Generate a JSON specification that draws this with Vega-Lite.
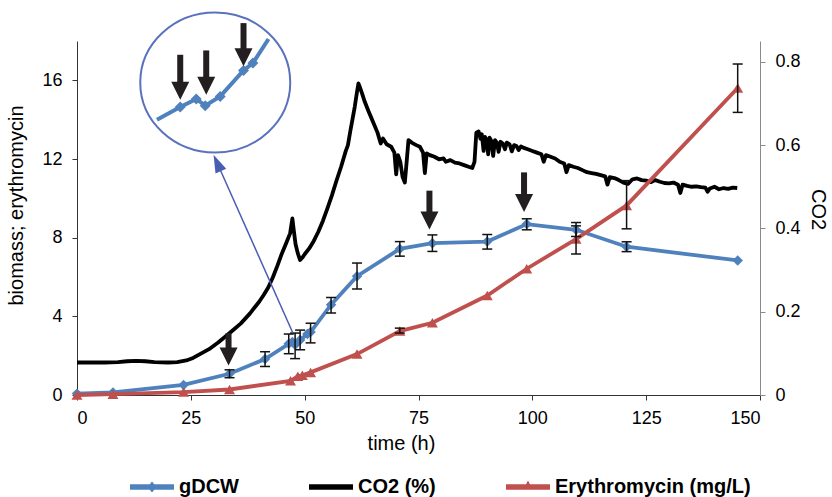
{
  "$schema": "https://vega.github.io/schema/vega-lite/v6.json",
  "width": 683,
  "height": 354,
  "autosize": {"type": "none"},
  "padding": {"left": 77, "top": 41, "right": 72, "bottom": 102},
  "config": {
    "font": "Liberation Sans",
    "view": {"stroke": null},
    "axis": {
      "grid": false,
      "labelFont": "Liberation Sans",
      "titleFont": "Liberation Sans",
      "labelFontSize": 18,
      "titleFontSize": 20,
      "titleFontWeight": "normal",
      "labelColor": "#000000",
      "titleColor": "#000000",
      "tickSize": 5,
      "labelPadding": 9
    }
  },
  "datasets": {
    "co2": [
      {"t": 0, "c": 0.078}, {"t": 3, "c": 0.078}, {"t": 6, "c": 0.078}, {"t": 9, "c": 0.079}, {"t": 11, "c": 0.081},
      {"t": 13, "c": 0.082}, {"t": 15, "c": 0.081}, {"t": 17, "c": 0.079}, {"t": 20, "c": 0.078}, {"t": 22, "c": 0.079},
      {"t": 24, "c": 0.083}, {"t": 25.5, "c": 0.089}, {"t": 27, "c": 0.098}, {"t": 29, "c": 0.110}, {"t": 31, "c": 0.126},
      {"t": 33, "c": 0.144}, {"t": 34.5, "c": 0.158}, {"t": 36, "c": 0.172}, {"t": 37, "c": 0.184}, {"t": 38, "c": 0.196},
      {"t": 39, "c": 0.210}, {"t": 40, "c": 0.224}, {"t": 41, "c": 0.240}, {"t": 42, "c": 0.258}, {"t": 43, "c": 0.282},
      {"t": 44, "c": 0.310}, {"t": 45, "c": 0.340}, {"t": 46, "c": 0.366}, {"t": 46.8, "c": 0.388}, {"t": 47.3, "c": 0.424},
      {"t": 47.6, "c": 0.396}, {"t": 48, "c": 0.362}, {"t": 48.5, "c": 0.340}, {"t": 49, "c": 0.324}, {"t": 49.5, "c": 0.330},
      {"t": 50, "c": 0.338}, {"t": 51, "c": 0.352}, {"t": 52, "c": 0.370}, {"t": 53, "c": 0.392}, {"t": 54, "c": 0.418},
      {"t": 55, "c": 0.448}, {"t": 56, "c": 0.480}, {"t": 57, "c": 0.515}, {"t": 58, "c": 0.548}, {"t": 59, "c": 0.585},
      {"t": 59.5, "c": 0.600}, {"t": 60, "c": 0.632}, {"t": 60.5, "c": 0.662}, {"t": 61, "c": 0.692}, {"t": 61.5, "c": 0.728},
      {"t": 61.8, "c": 0.748}, {"t": 62.1, "c": 0.740}, {"t": 62.6, "c": 0.724}, {"t": 63.2, "c": 0.704}, {"t": 64, "c": 0.682},
      {"t": 65, "c": 0.656}, {"t": 66, "c": 0.630}, {"t": 66.7, "c": 0.604}, {"t": 67.2, "c": 0.616}, {"t": 68, "c": 0.602},
      {"t": 69, "c": 0.596}, {"t": 69.7, "c": 0.582}, {"t": 70.1, "c": 0.530}, {"t": 70.5, "c": 0.576}, {"t": 71, "c": 0.560},
      {"t": 71.5, "c": 0.524}, {"t": 72, "c": 0.510}, {"t": 72.4, "c": 0.560}, {"t": 72.8, "c": 0.612}, {"t": 73.5, "c": 0.606},
      {"t": 74.5, "c": 0.600}, {"t": 75.3, "c": 0.596}, {"t": 76, "c": 0.582}, {"t": 76.4, "c": 0.533}, {"t": 76.8, "c": 0.580},
      {"t": 77.5, "c": 0.576}, {"t": 78.5, "c": 0.572}, {"t": 79.5, "c": 0.566}, {"t": 80.5, "c": 0.568}, {"t": 81, "c": 0.560},
      {"t": 82, "c": 0.564}, {"t": 83, "c": 0.558}, {"t": 84, "c": 0.556}, {"t": 85, "c": 0.552}, {"t": 86, "c": 0.548},
      {"t": 86.8, "c": 0.545}, {"t": 87.3, "c": 0.560}, {"t": 87.7, "c": 0.630}, {"t": 88.2, "c": 0.633}, {"t": 88.6, "c": 0.615},
      {"t": 88.9, "c": 0.626}, {"t": 89.3, "c": 0.586}, {"t": 89.6, "c": 0.620}, {"t": 90, "c": 0.612}, {"t": 90.3, "c": 0.578},
      {"t": 90.6, "c": 0.618}, {"t": 91, "c": 0.610}, {"t": 91.4, "c": 0.574}, {"t": 91.8, "c": 0.612}, {"t": 92.2, "c": 0.606},
      {"t": 92.6, "c": 0.584}, {"t": 93, "c": 0.608}, {"t": 93.5, "c": 0.604}, {"t": 94, "c": 0.590}, {"t": 94.4, "c": 0.606},
      {"t": 95, "c": 0.602}, {"t": 95.5, "c": 0.585}, {"t": 96, "c": 0.600}, {"t": 96.5, "c": 0.598}, {"t": 97, "c": 0.588},
      {"t": 97.5, "c": 0.597}, {"t": 98, "c": 0.594}, {"t": 99, "c": 0.590}, {"t": 100, "c": 0.586}, {"t": 101, "c": 0.582},
      {"t": 102, "c": 0.578}, {"t": 102.5, "c": 0.560}, {"t": 103, "c": 0.576}, {"t": 104, "c": 0.572}, {"t": 105, "c": 0.568},
      {"t": 106, "c": 0.560}, {"t": 107, "c": 0.556}, {"t": 107.5, "c": 0.535}, {"t": 108, "c": 0.552}, {"t": 109, "c": 0.548},
      {"t": 110, "c": 0.545}, {"t": 111, "c": 0.540}, {"t": 112, "c": 0.535}, {"t": 113, "c": 0.533}, {"t": 114, "c": 0.531},
      {"t": 115, "c": 0.528}, {"t": 116, "c": 0.525}, {"t": 116.5, "c": 0.505}, {"t": 117, "c": 0.523}, {"t": 118, "c": 0.521},
      {"t": 119, "c": 0.516}, {"t": 120, "c": 0.510}, {"t": 121, "c": 0.507}, {"t": 122, "c": 0.518}, {"t": 123, "c": 0.520},
      {"t": 124, "c": 0.516}, {"t": 125, "c": 0.515}, {"t": 126, "c": 0.511}, {"t": 127, "c": 0.516}, {"t": 128, "c": 0.512},
      {"t": 129, "c": 0.509}, {"t": 130, "c": 0.508}, {"t": 131, "c": 0.510}, {"t": 132, "c": 0.505}, {"t": 132.5, "c": 0.485},
      {"t": 133, "c": 0.505}, {"t": 134, "c": 0.502}, {"t": 135, "c": 0.500}, {"t": 136, "c": 0.501}, {"t": 137, "c": 0.499},
      {"t": 138, "c": 0.498}, {"t": 138.5, "c": 0.488}, {"t": 139, "c": 0.496}, {"t": 140, "c": 0.500}, {"t": 141, "c": 0.494},
      {"t": 142, "c": 0.497}, {"t": 143, "c": 0.495}, {"t": 144, "c": 0.498}, {"t": 145, "c": 0.497}
    ],
    "dcw": [
      {"t": 0, "v": 0.07}, {"t": 7.9, "v": 0.13}, {"t": 23.4, "v": 0.51}, {"t": 33.5, "v": 1.08},
      {"t": 41.3, "v": 1.83}, {"t": 46.5, "v": 2.6}, {"t": 47.3, "v": 2.7}, {"t": 47.9, "v": 2.55},
      {"t": 49.0, "v": 2.8}, {"t": 50.6, "v": 3.1}, {"t": 51.3, "v": 3.2}, {"t": 55.8, "v": 4.59},
      {"t": 61.5, "v": 6.04}, {"t": 70.9, "v": 7.43}, {"t": 78.05, "v": 7.72}, {"t": 90.1, "v": 7.8},
      {"t": 98.77, "v": 8.69}, {"t": 109.6, "v": 8.4}, {"t": 120.7, "v": 7.54}, {"t": 145.1, "v": 6.84}
    ],
    "ery": [
      {"t": 0, "v": 0.0}, {"t": 7.9, "v": 0.04}, {"t": 23.4, "v": 0.15}, {"t": 33.5, "v": 0.28},
      {"t": 46.9, "v": 0.72}, {"t": 48.5, "v": 0.95}, {"t": 49.5, "v": 1.0}, {"t": 51.3, "v": 1.15},
      {"t": 61.5, "v": 2.08}, {"t": 70.9, "v": 3.25}, {"t": 78.05, "v": 3.67}, {"t": 90.1, "v": 5.06},
      {"t": 98.77, "v": 6.42}, {"t": 109.6, "v": 7.93}, {"t": 120.7, "v": 9.64}, {"t": 145.1, "v": 15.61}
    ],
    "err": [
      {"t": 33.5, "lo": 0.88, "hi": 1.28}, {"t": 41.3, "lo": 1.45, "hi": 2.2}, {"t": 46.5, "lo": 2.1, "hi": 3.1},
      {"t": 47.9, "lo": 1.85, "hi": 3.15}, {"t": 49.0, "lo": 2.3, "hi": 3.3}, {"t": 51.3, "lo": 2.65, "hi": 3.65},
      {"t": 55.8, "lo": 4.17, "hi": 4.96}, {"t": 61.5, "lo": 5.39, "hi": 6.71}, {"t": 70.9, "lo": 7.06, "hi": 7.8},
      {"t": 78.05, "lo": 7.3, "hi": 8.14}, {"t": 90.1, "lo": 7.42, "hi": 8.16}, {"t": 98.77, "lo": 8.4, "hi": 8.96},
      {"t": 109.6, "lo": 8.06, "hi": 8.77}, {"t": 120.7, "lo": 7.29, "hi": 7.79},
      {"t": 70.9, "lo": 3.15, "hi": 3.4}, {"t": 109.6, "lo": 7.17, "hi": 8.6}, {"t": 120.7, "lo": 8.45, "hi": 10.9},
      {"t": 145.1, "lo": 14.37, "hi": 16.83}
    ],
    "arrows": [
      {"t": 33.28, "top": 3.15, "head": 1.96}, {"t": 77.4, "top": 10.39, "head": 8.87},
      {"t": 98.18, "top": 11.32, "head": 9.76}, {"t": 22.67, "top": 17.3, "head": 15.47},
      {"t": 28.38, "top": 17.52, "head": 15.72}, {"t": 36.57, "top": 18.91, "head": 17.17}
    ],
    "inset": [
      {"t": 17.56, "y": 14.0, "m": 0}, {"t": 22.67, "y": 14.64, "m": 1}, {"t": 26.19, "y": 15.05, "m": 1},
      {"t": 28.16, "y": 14.71, "m": 1}, {"t": 31.45, "y": 15.18, "m": 1}, {"t": 36.57, "y": 16.5, "m": 1},
      {"t": 38.63, "y": 16.88, "m": 1}, {"t": 42.06, "y": 18.1, "m": 0}
    ],
    "circle": [{"t": 30.36, "y": 15.89}],
    "conn": [{"t": 47.41, "y": 3.15, "t2": 30.79, "y2": 11.8}]
  },
  "layer": [
    {
      "data": {"name": "co2"},
      "mark": {"type": "line", "strokeWidth": 3.8, "strokeJoin": "round"},
      "encoding": {
        "x": {
          "field": "t", "type": "quantitative", "title": "time (h)",
          "scale": {"domain": [0, 150], "nice": false},
          "axis": {"values": [0, 25, 50, 75, 100, 125, 150], "domainColor": "#333333", "tickColor": "#333333", "titleX": 324, "titlePadding": 6}
        },
        "y": {
          "field": "c", "type": "quantitative", "title": "CO2",
          "scale": {"domain": [0, 0.85], "nice": false},
          "axis": {"orient": "right", "values": [0, 0.2, 0.4, 0.6, 0.8], "format": "~g", "domainColor": "#8a8a8a", "tickColor": "#8a8a8a", "labelPadding": 10, "titleFontSize": 20, "titlePadding": 7, "titleY": 168}
        },
        "color": {
          "datum": "CO2 (%)", "type": "nominal",
          "scale": {"domain": ["gDCW", "CO2 (%)", "Erythromycin (mg/L)"], "range": ["#4f81bd", "#000000", "#c0504d"]},
          "legend": {
            "title": null, "orient": "none", "legendX": 53, "legendY": 424, "direction": "horizontal",
            "padding": 0, "labelFont": "Liberation Sans", "labelFontSize": 20, "labelFontWeight": "bold", "labelColor": "#000000",
            "labelOffset": 5, "columnPadding": 70, "symbolSize": 1936, "symbolStrokeWidth": 0, "labelLimit": 400,
            "encode": {
              "symbols": {
                "update": {
                  "shape": {"signal": "datum.value === 'gDCW' ? 'M -1 -0.12 L 1 -0.12 L 1 0.12 L -1 0.12 Z M 0 -0.25 L 0.2 0 L 0 0.25 L -0.2 0 Z' : datum.value === 'CO2 (%)' ? 'M -1 -0.12 L 1 -0.12 L 1 0.12 L -1 0.12 Z' : 'M -1 -0.12 L 1 -0.12 L 1 0.12 L -1 0.12 Z M 0 -0.3 L 0.22 0.12 L -0.22 0.12 Z'"},
                  "fill": {"signal": "scale('color', datum.value)"},
                  "opacity": {"value": 1},
                  "strokeWidth": {"value": 0}
                }
              }
            }
          }
        }
      }
    },
    {
      "layer": [
        {
          "data": {"name": "dcw"},
          "mark": {"type": "line", "strokeWidth": 3.8},
          "encoding": {
            "x": {"field": "t", "type": "quantitative", "title": "time (h)"},
            "y": {
              "field": "v", "type": "quantitative", "title": "biomass; erythromycin",
              "scale": {"domain": [0, 18], "nice": false},
              "axis": {"values": [0, 4, 8, 12, 16], "domainColor": "#333333", "tickColor": "#333333", "labelPadding": 10, "titlePadding": 15, "titleY": 164}
            },
            "color": {"datum": "gDCW", "type": "nominal"}
          }
        },
        {
          "data": {"name": "dcw"},
          "mark": {"type": "point", "shape": "diamond", "filled": true, "size": 110, "opacity": 1},
          "encoding": {
            "x": {"field": "t", "type": "quantitative", "title": "time (h)"},
            "y": {"field": "v", "type": "quantitative", "title": "biomass; erythromycin"},
            "color": {"datum": "gDCW", "type": "nominal"}
          }
        },
        {
          "data": {"name": "ery"},
          "mark": {"type": "line", "strokeWidth": 3.8},
          "encoding": {
            "x": {"field": "t", "type": "quantitative", "title": "time (h)"},
            "y": {"field": "v", "type": "quantitative", "title": "biomass; erythromycin"},
            "color": {"datum": "Erythromycin (mg/L)", "type": "nominal"}
          }
        },
        {
          "data": {"name": "ery"},
          "mark": {"type": "point", "shape": "triangle-up", "filled": true, "size": 120, "opacity": 1},
          "encoding": {
            "x": {"field": "t", "type": "quantitative", "title": "time (h)"},
            "y": {"field": "v", "type": "quantitative", "title": "biomass; erythromycin"},
            "color": {"datum": "Erythromycin (mg/L)", "type": "nominal"}
          }
        },
        {
          "data": {"name": "err"},
          "mark": {"type": "rule", "strokeWidth": 1.5, "color": "#111111"},
          "encoding": {
            "x": {"field": "t", "type": "quantitative", "title": "time (h)"},
            "y": {"field": "lo", "type": "quantitative", "title": "biomass; erythromycin"},
            "y2": {"field": "hi"}
          }
        },
        {
          "data": {"name": "err"},
          "mark": {"type": "tick", "orient": "horizontal", "size": 10, "thickness": 1.5, "color": "#111111", "opacity": 1},
          "encoding": {
            "x": {"field": "t", "type": "quantitative", "title": "time (h)"},
            "y": {"field": "lo", "type": "quantitative", "title": "biomass; erythromycin"}
          }
        },
        {
          "data": {"name": "err"},
          "mark": {"type": "tick", "orient": "horizontal", "size": 10, "thickness": 1.5, "color": "#111111", "opacity": 1},
          "encoding": {
            "x": {"field": "t", "type": "quantitative", "title": "time (h)"},
            "y": {"field": "hi", "type": "quantitative", "title": "biomass; erythromycin"}
          }
        },
        {
          "data": {"name": "conn"},
          "mark": {"type": "rule", "strokeWidth": 1.5, "color": "#4a5db5"},
          "encoding": {
            "x": {"field": "t", "type": "quantitative", "title": "time (h)"},
            "y": {"field": "y", "type": "quantitative", "title": "biomass; erythromycin"},
            "x2": {"field": "t2"},
            "y2": {"field": "y2"}
          }
        },
        {
          "data": {"name": "conn"},
          "mark": {"type": "point", "shape": "M 0 -1 L 0.65 1 L -0.65 1 Z", "filled": true, "size": 324, "angle": 336, "color": "#4a5db5", "opacity": 1},
          "encoding": {
            "x": {"field": "t2", "type": "quantitative", "title": "time (h)"},
            "y": {"field": "y2", "type": "quantitative", "title": "biomass; erythromycin"}
          }
        },
        {
          "data": {"name": "circle"},
          "mark": {"type": "point", "shape": "M 1 0 C 1 0.515 0.5523 0.933 0 0.933 C -0.5523 0.933 -1 0.515 -1 0 C -1 -0.515 -0.5523 -0.933 0 -0.933 C 0.5523 -0.933 1 -0.515 1 0 Z", "filled": false, "size": 22500, "strokeWidth": 2, "color": "#5a72be", "opacity": 1},
          "encoding": {
            "x": {"field": "t", "type": "quantitative", "title": "time (h)"},
            "y": {"field": "y", "type": "quantitative", "title": "biomass; erythromycin"}
          }
        },
        {
          "data": {"name": "inset"},
          "mark": {"type": "line", "strokeWidth": 4, "color": "#4f81bd"},
          "encoding": {
            "x": {"field": "t", "type": "quantitative", "title": "time (h)"},
            "y": {"field": "y", "type": "quantitative", "title": "biomass; erythromycin"}
          }
        },
        {
          "data": {"name": "inset"},
          "transform": [{"filter": "datum.m == 1"}],
          "mark": {"type": "point", "shape": "diamond", "filled": true, "size": 120, "color": "#4f81bd", "opacity": 1},
          "encoding": {
            "x": {"field": "t", "type": "quantitative", "title": "time (h)"},
            "y": {"field": "y", "type": "quantitative", "title": "biomass; erythromycin"}
          }
        },
        {
          "data": {"name": "arrows"},
          "mark": {"type": "rule", "strokeWidth": 6, "strokeCap": "butt", "color": "#231f20"},
          "encoding": {
            "x": {"field": "t", "type": "quantitative", "title": "time (h)"},
            "y": {"field": "top", "type": "quantitative", "title": "biomass; erythromycin"},
            "y2": {"field": "head"}
          }
        },
        {
          "data": {"name": "arrows"},
          "mark": {"type": "point", "shape": "M -1 -1 L 1 -1 L 0 1 Z", "filled": true, "size": 324, "color": "#231f20", "opacity": 1},
          "encoding": {
            "x": {"field": "t", "type": "quantitative", "title": "time (h)"},
            "y": {"field": "head", "type": "quantitative", "title": "biomass; erythromycin"}
          }
        }
      ]
    }
  ],
  "resolve": {"scale": {"y": "independent"}}
}
